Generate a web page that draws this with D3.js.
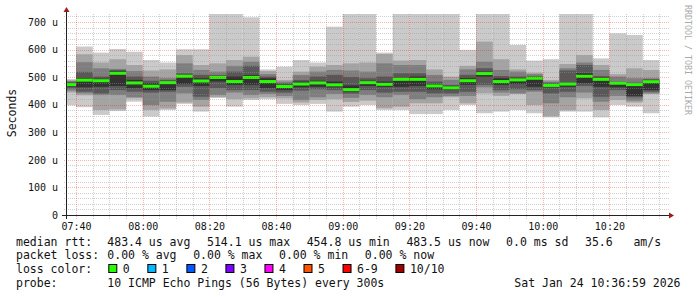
<!DOCTYPE html>
<html>
<head>
<meta charset="utf-8">
<script src="https://cdn.jsdelivr.net/npm/d3@7"></script>
<style>
  body { margin: 0; background: #fff; }
  svg text { font-family: "DejaVu Sans Mono", monospace; white-space: pre; }
</style>
</head>
<body>
<svg id="chart" width="697" height="297"></svg>
<script>
// 5 minute steps, value belongs to the interval ending at this time
const endTimes = ["07:40", "07:45", "07:50", "07:55", "08:00", "08:05", "08:10", "08:15", "08:20",
  "08:25", "08:30", "08:35", "08:40", "08:45", "08:50", "08:55", "09:00", "09:05", "09:10",
  "09:15", "09:20", "09:25", "09:30", "09:35", "09:40", "09:45", "09:50", "09:55", "10:00",
  "10:05", "10:10", "10:15", "10:20", "10:25", "10:30", "10:35"]

// median rtt, microseconds
const median = [473, 489, 487, 514.1, 479, 467, 480, 503, 486, 499, 484, 499, 484, 466, 475, 479, 472, 454.8,
  480, 474, 492, 492, 468, 461, 487, 513, 484, 490, 496, 470, 475, 503, 492, 478, 473, 483.5]

// the 10 sorted pings of every step, microseconds (745 = above the top of the graph)
const ping01 = [398, 391, 363, 377, 411, 357, 381, 403, 375, 425, 393, 417, 420, 403, 399, 403, 375, 393,
  399, 381, 381, 366, 366, 381, 399, 369, 375, 381, 369, 354, 375, 375, 354, 399, 393, 369]
const ping02 = [444, 434, 381, 383, 423, 381, 386, 408, 393, 427, 420, 423, 427, 423, 408, 417, 420, 410,
  415, 387, 393, 405, 405, 427, 405, 441, 432, 439, 399, 358, 380, 423, 381, 417, 408, 439]
const ping03 = [451, 441, 435, 435, 427, 399, 411, 441, 417, 435, 444, 435, 439, 432, 417, 427, 439, 425,
  435, 427, 435, 420, 427, 432, 432, 463, 444, 441, 447, 405, 427, 444, 411, 432, 415, 441]
const ping04 = [459, 447, 441, 453, 447, 444, 447, 465, 429, 460, 453, 453, 447, 444, 451, 456, 453, 440,
  453, 444, 447, 447, 441, 441, 447, 472, 453, 456, 453, 441, 447, 468, 429, 453, 427, 447]
const ping05 = [466, 463, 465, 468, 460, 453, 453, 475, 468, 484, 472, 472, 460, 453, 463, 465, 463, 448,
  468, 465, 465, 468, 456, 453, 472, 502, 472, 475, 465, 463, 465, 478, 465, 463, 432, 453]
const ping06 = [477, 496, 494, 522, 490, 478, 484, 505, 496, 502, 502, 508, 496, 472, 484, 487, 484, 470,
  487, 484, 496, 502, 475, 466, 496, 520, 496, 496, 499, 475, 480, 514, 498, 481, 478, 490]
const ping07 = [482, 519, 502, 526, 502, 487, 490, 514, 508, 508, 520, 541, 502, 478, 490, 502, 508, 500,
  496, 502, 514, 514, 484, 472, 508, 532, 504, 502, 504, 480, 524, 544, 504, 484, 480, 492]
const ping08 = [486, 554, 532, 530, 522, 502, 496, 550, 526, 520, 541, 556, 511, 484, 508, 520, 526, 524,
  520, 550, 544, 544, 508, 490, 528, 556, 526, 520, 511, 484, 532, 553, 526, 502, 496, 496]
const ping09 = [489, 583, 553, 565, 544, 524, 528, 580, 544, 550, 562, 574, 522, 490, 520, 538, 544, 550,
  553, 584, 560, 562, 528, 502, 541, 629, 565, 528, 516, 490, 548, 580, 544, 511, 532, 526]
const ping10 = [493, 611, 589, 602, 592, 562, 553, 601, 601, 745, 745, 717, 528, 538, 562, 553, 683, 745,
  745, 589, 745, 745, 745, 745, 599, 745, 745, 617, 560, 565, 745, 745, 568, 659, 653, 562]

const yTicks = [0, 100, 200, 300, 400, 500, 600, 700]

const medianStats = ["483.4 us avg", "514.1 us max", "454.8 us min", "483.5 us now", "0.0 ms sd", "35.6   am/s"]
const lossStats = ["0.00 % avg", "0.00 % max", "0.00 % min", "0.00 % now"]
const lossLabels = ["0", "1", "2", "3", "4", "5", "6-9", "10/10"]
const lossColors = ["#26ff00", "#00b8ff", "#0059ff", "#7e00ff", "#ff00ff", "#ff5500", "#ff0000", "#a00000"]
const probeText = "10 ICMP Echo Pings (56 Bytes) every 300s"
const stamp = "Sat Jan 24 10:36:59 2026"

const svg = d3.select("#chart")
const margin = {top: 14, left: 66, bottom: 215, right: 666}
const day = "2026-01-24 "
const parse = d3.utcParse("%Y-%m-%d %H:%M")
const parseS = d3.utcParse("%Y-%m-%d %H:%M:%S")

const x = d3.scaleUtc()
  .domain([parseS(day + "07:36:59"), parseS(day + "10:36:59")])
  .range([margin.left, margin.right])

const y = d3.scaleLinear()
  .domain([0, 729])
  .range([margin.bottom, margin.top])

const steps = endTimes.map((t, i) => {
  const end = parse(day + t)
  return {
    start: d3.utcMinute.offset(end, -5),
    end: end,
    median: median[i],
    pings: [ping01[i], ping02[i], ping03[i], ping04[i], ping05[i],
            ping06[i], ping07[i], ping08[i], ping09[i], ping10[i]]
  }
})

svg.append("rect").attr("width", 697).attr("height", 297).attr("fill", "#fff")

svg.append("clipPath").attr("id", "plot")
  .append("rect")
  .attr("x", margin.left).attr("y", margin.top)
  .attr("width", margin.right - margin.left)
  .attr("height", margin.bottom - margin.top)

const plot = svg.append("g").attr("clip-path", "url(#plot)")

// smoke: band i goes from ping i to ping (11 - i), darker towards the middle
const half = 5
for (let b = 1; b <= half; b++) {
  const c = Math.floor(190 / half * (half - b)) + 50
  plot.append("g")
    .attr("fill", d3.rgb(c, c, c))
    .selectAll("rect")
    .data(steps)
    .join("rect")
      .attr("x", d => x(d.start))
      .attr("width", d => x(d.end) - x(d.start))
      .attr("y", d => y(d.pings[10 - b]))
      .attr("height", d => y(d.pings[b - 1]) - y(d.pings[10 - b]))
}

// grid, dotted: one pixel on, one pixel off
const minorGrid = "rgba(150,150,150,0.45)"
const majorGrid = "rgba(255,0,0,0.3)"
const px = v => Math.round(v)
const grid = svg.append("g").attr("shape-rendering", "crispEdges")

const xMinor = x.ticks(d3.utcMinute.every(5))
const xMajor = xMinor.filter(d => d.getUTCMinutes() % 20 === 0)
const yMinor = d3.range(20, 729, 20)

function dotsH(yy, x0, x1, color) {
  const g = grid.append("g").attr("fill", color)
  g.selectAll("rect")
    .data(d3.range(x0, x1, 2))
    .join("rect")
      .attr("x", d => d).attr("y", yy)
      .attr("width", 1).attr("height", 1)
}

function dotsV(xx, y0, y1, color) {
  const g = grid.append("g").attr("fill", color)
  g.selectAll("rect")
    .data(d3.range(y0, y1, 2))
    .join("rect")
      .attr("x", xx).attr("y", d => d)
      .attr("width", 1).attr("height", 1)
}

yMinor.forEach(v => dotsH(px(y(v)), margin.left - 2, margin.right + 3, v % 100 === 0 ? majorGrid : minorGrid))
xMinor.forEach(d => dotsV(px(x(d)), margin.top, margin.bottom + 4, xMajor.includes(d) ? majorGrid : minorGrid))

// median, drawn as a thin band in the loss colour
plot.append("g")
  .attr("fill", lossColors[0])
  .selectAll("rect")
  .data(steps)
  .join("rect")
    .attr("x", d => x(d.start))
    .attr("width", d => x(d.end) - x(d.start))
    .attr("y", d => y(d.median) - 1.5)
    .attr("height", 3)

// axes
svg.append("line")
  .attr("x1", margin.left - 4).attr("x2", margin.right + 4)
  .attr("y1", margin.bottom + 0.5).attr("y2", margin.bottom + 0.5)
  .attr("stroke", "#222")
svg.append("line")
  .attr("x1", margin.left + 0.5).attr("x2", margin.left + 0.5)
  .attr("y1", margin.bottom + 4).attr("y2", margin.top - 2)
  .attr("stroke", "#222")
svg.append("path")
  .attr("d", `M${margin.right + 3},${margin.bottom - 2.5}L${margin.right + 8},${margin.bottom + 0.5}L${margin.right + 3},${margin.bottom + 3.5}Z`)
  .attr("fill", "#9b1c1c")
svg.append("path")
  .attr("d", `M${margin.left - 2.5},${margin.top - 2}L${margin.left + 0.5},${margin.top - 7}L${margin.left + 3.5},${margin.top - 2}Z`)
  .attr("fill", "#9b1c1c")

const yAxis = svg.append("g")
  .attr("transform", `translate(${margin.left - 8},0)`)
  .call(d3.axisLeft(y).tickValues(yTicks).tickSize(0).tickPadding(0)
    .tickFormat(d => d === 0 ? "0" : d + " u"))
yAxis.select(".domain").remove()
yAxis.selectAll("text")
  .attr("font-family", null)
  .style("font-size", "10px")
  .attr("fill", "#111")

const xAxis = svg.append("g")
  .attr("transform", `translate(0,${margin.bottom})`)
  .call(d3.axisBottom(x).tickValues(xMajor).tickSize(0).tickPadding(8)
    .tickFormat(d3.utcFormat("%H:%M")))
xAxis.select(".domain").remove()
xAxis.selectAll("text")
  .attr("font-family", null)
  .style("font-size", "10px")
  .attr("fill", "#111")

svg.append("text")
  .attr("transform", "translate(15.5,113) rotate(-90)")
  .attr("text-anchor", "middle")
  .style("font-size", "11.5px")
  .attr("fill", "#111")
  .text("Seconds")

svg.append("text")
  .attr("transform", "translate(685,5) rotate(90)")
  .style("font-size", "8.3px")
  .attr("fill", "#aaa")
  .text("RRDTOOL / TOBI OETIKER")

// legend
const legend = svg.append("g").style("font-size", "11.5px").attr("fill", "#111")
const colX = 107.3
const gap = 16.6
const rowY = [245.5, 259, 273, 286.5]

function row(label, items, baseline) {
  legend.append("text").attr("x", 16).attr("y", baseline).text(label)
  let cx = colX
  items.forEach(s => {
    const t = legend.append("text").attr("x", cx).attr("y", baseline).text(s)
    cx += t.node().getComputedTextLength() + gap
  })
}

row("median rtt:", medianStats, rowY[0])
row("packet loss:", lossStats, rowY[1])

legend.append("text").attr("x", 16).attr("y", rowY[2]).text("loss color:")
let lx = colX
lossLabels.forEach((lab, i) => {
  legend.append("rect")
    .attr("x", lx + 1.5).attr("y", rowY[2] - 8.5)
    .attr("width", 8).attr("height", 8)
    .attr("fill", lossColors[i]).attr("stroke", "#000")
  const t = legend.append("text").attr("x", lx + 15.5).attr("y", rowY[2]).text(lab)
  lx += 15.5 + t.node().getComputedTextLength() + gap
})

legend.append("text").attr("x", 16).attr("y", rowY[3]).text("probe:")
legend.append("text").attr("x", colX).attr("y", rowY[3]).text(probeText)
legend.append("text").attr("x", 680.5).attr("y", rowY[3]).attr("text-anchor", "end").text(stamp)
</script>
</body>
</html>
